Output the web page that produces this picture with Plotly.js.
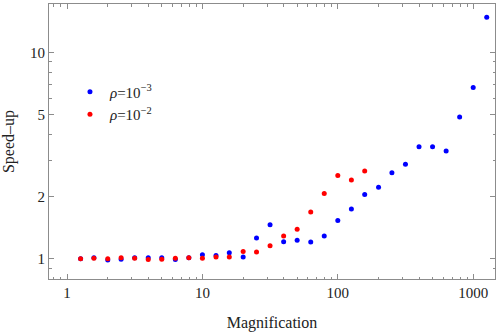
<!DOCTYPE html>
<html>
<head>
<meta charset="utf-8">
<script src="https://cdn.plot.ly/plotly-3.0.1.min.js"></script>
<style>
  body { margin: 0; background: #fff; }
  #chart { width: 500px; height: 332px; }
</style>
</head>
<body>
<div id="chart"></div>
<script>
// magnification steps
const magnification = [1.26, 1.58, 2, 2.51, 3.16, 3.98, 5.01, 6.31, 7.94, 10,
  12.6, 15.8, 20, 25.1, 31.6, 39.8, 50.1, 63.1, 79.4, 100,
  126, 158, 200, 251, 316, 398, 501, 631, 794, 1000, 1259];

// rho = 1e-3
const speedupBlue = [1.00, 1.01, 0.985, 0.995, 1.01, 1.01, 1.01, 0.99, 1.01, 1.046,
  1.035, 1.069, 1.02, 1.26, 1.46, 1.21, 1.23, 1.205, 1.29, 1.53,
  1.74, 2.05, 2.22, 2.61, 2.87, 3.49, 3.49, 3.33, 4.87, 6.76, 14.84];

// rho = 1e-2 (only up to 158)
const magRed = magnification.slice(0, 22);
const speedupRed = [1.00, 1.005, 1.0, 1.01, 1.005, 0.99, 0.995, 1.005, 1.01, 1.005,
  1.02, 1.02, 1.085, 1.077, 1.157, 1.29, 1.388, 1.686, 2.07, 2.53,
  2.41, 2.66];

const xTicks = [1, 10, 100, 1000];
const xMinor = [0.8, 0.9, 2, 3, 4, 5, 6, 7, 8, 9, 20, 30, 40, 50, 60, 70, 80, 90,
  200, 300, 400, 500, 600, 700, 800, 900];
const yTicks = [1, 2, 5, 10];
const yMinor = [0.8, 0.9, 3, 4, 6, 7, 8, 9];

const frame = "#8c8c8c";
const serif = "Liberation Serif, Times New Roman, serif";

var data = [
  {
    x: magnification, y: speedupBlue, type: "scatter", mode: "markers",
    name: "<i>ρ</i>=10<sup>−3</sup>",
    marker: {color: "#0000ff", size: 5}
  },
  {
    x: magRed, y: speedupRed, type: "scatter", mode: "markers",
    name: "<i>ρ</i>=10<sup>−2</sup>",
    marker: {color: "#ff0000", size: 5}
  }
];

function axis(titleText, range, ticks, minor) {
  return {
    type: "log",
    range: range,
    title: {text: titleText, font: {family: serif, size: 16, color: "#222"}},
    tickmode: "array", tickvals: ticks, ticktext: ticks.map(String),
    ticks: "inside", ticklen: 5, tickwidth: 1, tickcolor: frame,
    minor: {tickmode: "array", tickvals: minor, ticks: "inside", ticklen: 2.5, tickcolor: frame, showgrid: false},
    showline: true, linecolor: frame, linewidth: 1, mirror: "ticks",
    showgrid: false, zeroline: false,
    tickfont: {family: serif, size: 15, color: "#222"},
    automargin: false
  };
}

var layout = {
  width: 500, height: 332,
  margin: {l: 49, r: 5, t: 4, b: 53},
  paper_bgcolor: "#fff", plot_bgcolor: "#fff",
  xaxis: axis("Magnification", [-0.133, 3.161], xTicks, xMinor),
  yaxis: axis("Speed\u2013up", [-0.0985, 1.2355], yTicks, yMinor),
  showlegend: true,
  legend: {
    x: 0.047, y: 0.74, xanchor: "left", yanchor: "top",
    bgcolor: "rgba(0,0,0,0)",
    font: {family: serif, size: 15, color: "#222"}
  }
};

Plotly.newPlot("chart", data, layout, {staticPlot: true});
</script>
</body>
</html>
